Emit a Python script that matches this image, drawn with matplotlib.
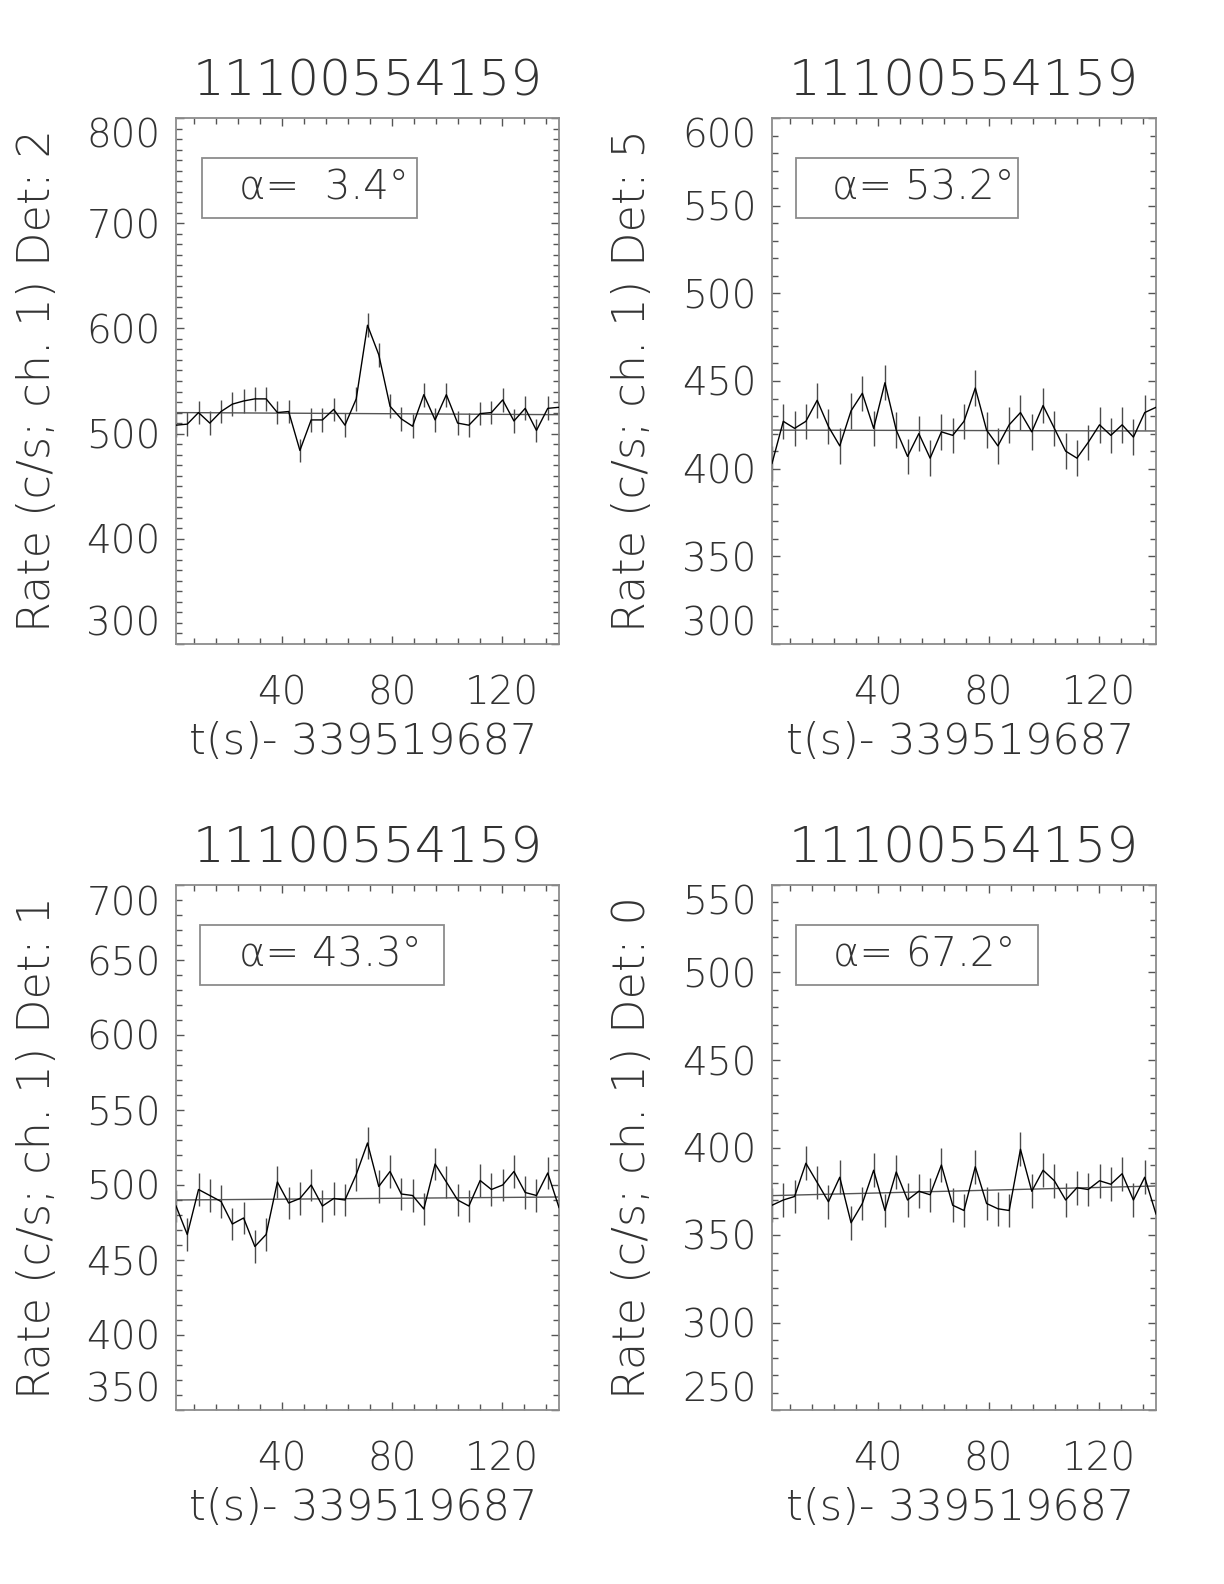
import matplotlib
matplotlib.use("Agg")
import matplotlib.pyplot as plt
from matplotlib.ticker import MultipleLocator, FixedLocator
from matplotlib.patches import Rectangle

# ---------------- data ----------------
title = "11100554159"
xlabel = "t(s)- 339519687"

# bin times (s) relative to reference time
times = [1.4, 5.5, 9.6, 13.7, 17.8, 21.9, 26.0, 30.1, 34.2, 38.3, 42.4, 46.5,
         50.6, 54.7, 58.8, 62.9, 67.0, 71.1, 75.2, 79.3, 83.4, 87.5, 91.6, 95.7,
         99.8, 103.9, 108.0, 112.1, 116.2, 120.3, 124.4, 128.5, 132.6, 136.7, 140.8]

det_labels = ["2", "5", "1", "0"]
alpha_vals = [3.4, 53.2, 43.3, 67.2]

rate_det2 = [508, 509, 520, 510, 521, 528, 531, 533, 533, 520, 521, 484,
             513, 513, 523, 508, 533, 603, 575, 526, 514, 507, 537, 513,
             537, 510, 508, 519, 520, 532, 512, 524, 503, 524, 525]
rate_det5 = [403, 427, 423, 427, 439, 424, 413, 433, 443, 423, 449, 422,
             407, 420, 406, 421, 419, 427, 446, 422, 413, 425, 432, 421,
             436, 423, 410, 406, 415, 425, 419, 425, 418, 432, 435]
rate_det1 = [486, 467, 497, 493, 489, 474, 478, 459, 467, 502, 488, 491,
             500, 486, 491, 490, 507, 528, 499, 509, 494, 493, 484, 514,
             502, 490, 486, 503, 497, 500, 509, 495, 493, 508, 485]
rate_det0 = [367, 370, 372, 391, 380, 369, 383, 357, 368, 387, 364, 386,
             370, 375, 373, 390, 367, 364, 389, 368, 365, 364, 399, 375,
             387, 381, 370, 377, 376, 381, 379, 385, 370, 383, 362]

# 1-sigma error per panel (c/s)
err_vals = [11.3, 10.1, 10.9, 9.6]

# background fit line (start, end)
fit_start = [520.0, 422.0, 490.0, 372.5]
fit_end = [518.0, 421.5, 492.0, 378.0]

ylims = [(300, 800), (300, 600), (350, 700), (250, 550)]
ymajor = [100, 50, 50, 50]
xticks = [40, 80, 120]

rates = [rate_det2, rate_det5, rate_det1, rate_det0]

# ---------------- layout ----------------
W, H = 1224, 1584
fig = plt.figure(figsize=(W / 100, H / 100), dpi=100)
fig.patch.set_facecolor("white")

# axes boxes in pixels: left, top, right, bottom
boxes_px = [(176, 118, 559, 644), (772, 118, 1156, 644),
            (176, 885, 559, 1410), (772, 885, 1156, 1410)]
alpha_box = [(0.068, 0.629), (0.063, 0.64), (0.063, 0.70), (0.063, 0.693)]
alpha_tx = [0.165, 0.155, 0.165, 0.158]

FONT = "DejaVu Sans"
TXT = "#333333"
FRAME = "#8c8c8c"

for i in range(4):
    l, t, r, b = boxes_px[i]
    ax = fig.add_axes([l / W, 1 - b / H, (r - l) / W, (b - t) / H])
    ax.set_facecolor("white")
    for s in ax.spines.values():
        s.set_color(FRAME)
        s.set_linewidth(1.3)

    ax.errorbar(times, rates[i], yerr=err_vals[i], fmt="none",
                ecolor="#4a4a4a", elinewidth=1.0, capsize=0, zorder=2)
    ax.plot(times, rates[i], color="black", lw=1.0, zorder=3)
    ax.plot([times[0], times[-1]], [fit_start[i], fit_end[i]],
            color="#555555", lw=1.0, zorder=2)

    ax.set_xlim(times[0], times[-1])
    ax.set_ylim(*ylims[i])

    ax.xaxis.set_major_locator(FixedLocator(xticks))
    ax.xaxis.set_minor_locator(MultipleLocator(8))
    y0, y1 = ylims[i]
    ax.set_yticks(list(range(y0, y1 + 1, ymajor[i])))
    ax.yaxis.set_minor_locator(MultipleLocator(10))

    ax.tick_params(which="both", direction="in", top=True, right=True,
                   color="#555555", width=1.0)
    ax.tick_params(which="major", length=6)
    ax.tick_params(which="minor", length=4)
    ax.tick_params(axis="x", which="major", pad=22, labelsize=28,
                   labelcolor=TXT)
    ax.tick_params(axis="y", which="major", pad=11, labelsize=28,
                   labelcolor=TXT)
    for lab in ax.get_xticklabels() + ax.get_yticklabels():
        lab.set_fontfamily(FONT)
        lab.set_fontweight("light")

    ylabs = ax.get_yticklabels()
    ylabs[0].set_va("bottom")
    ylabs[-1].set_va("top")

    ax.text(0.5, 1.070, title, transform=ax.transAxes, ha="center",
            va="center", fontsize=36, color=TXT, family=FONT,
            fontweight="light")
    ax.text(0.49, -0.186, xlabel, transform=ax.transAxes, ha="center",
            va="center", fontsize=31, color=TXT, family=FONT,
            fontweight="light")
    ax.text(-0.362, 0.5, "Rate (c/s; ch. 1) Det: " + det_labels[i],
            transform=ax.transAxes, ha="center", va="center", rotation=90,
            fontsize=32, color=TXT, family=FONT, fontweight="light")

    bx0, bx1 = alpha_box[i]
    ax.add_patch(Rectangle((bx0, 0.81), bx1 - bx0, 0.114,
                           transform=ax.transAxes, fill=False,
                           edgecolor=FRAME, lw=1.3, zorder=4))
    aval = alpha_vals[i]
    pad = "  " if aval < 10 else " "
    ax.text(alpha_tx[i], 0.866, "α=" + pad + f"{aval:.1f}°",
            transform=ax.transAxes, ha="left", va="center", fontsize=29,
            color=TXT, family=FONT, fontweight="light", zorder=5)

fig.savefig("out.png", dpi=100, facecolor="white")
